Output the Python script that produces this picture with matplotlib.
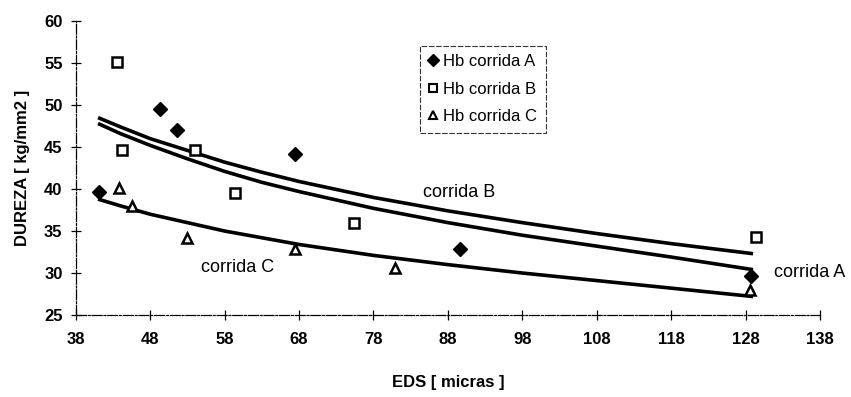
import matplotlib
matplotlib.use('Agg')
import matplotlib.pyplot as plt
from matplotlib.lines import Line2D

plt.rcParams['font.family'] = ['Liberation Sans', 'DejaVu Sans']

# puntos medidos (EDS en micras, dureza en kg/mm2)
eds_a = [41.1, 49.3, 51.6, 67.5, 89.6, 128.7]
dur_a = [39.6, 49.5, 47.0, 44.2, 32.9, 29.6]

eds_b = [43.5, 44.2, 54.0, 59.4, 75.4, 129.4]
dur_b = [55.1, 44.6, 44.6, 39.5, 36.0, 34.3]

eds_c = [43.8, 45.5, 52.9, 67.4, 80.9, 128.6]
dur_c = [40.1, 38.0, 34.2, 32.9, 30.6, 28.0]

# curvas de tendencia
eds_curva = [41, 44, 48, 53, 58, 63, 68, 78, 88, 98, 108, 118, 129]
curva_a = [47.8, 46.6, 45.2, 43.6, 42.1, 40.8, 39.7, 37.7, 36.0, 34.5, 33.2, 31.9, 30.4]
curva_b = [48.5, 47.4, 46.0, 44.6, 43.2, 42.0, 40.9, 39.0, 37.4, 36.0, 34.7, 33.5, 32.3]
curva_c = [38.8, 38.0, 37.0, 36.0, 35.0, 34.2, 33.4, 32.1, 31.0, 30.0, 29.1, 28.2, 27.2]

xticks = [38, 48, 58, 68, 78, 88, 98, 108, 118, 128, 138]
yticks = [25, 30, 35, 40, 45, 50, 55, 60]

fig = plt.figure(figsize=(8.51, 3.97), dpi=100)
ax = fig.add_axes([0.089, 0.2065, 0.8746, 0.7405])

lw = 2.6
ax.plot(eds_curva, curva_b, color='black', lw=lw, solid_capstyle='butt')
ax.plot(eds_curva, curva_a, color='black', lw=lw, solid_capstyle='butt')
ax.plot(eds_curva, curva_c, color='black', lw=lw, solid_capstyle='butt')

ax.plot(eds_a, dur_a, 'D', color='black', ms=7, ls='none')
ax.plot(eds_b, dur_b, 's', mfc='white', mec='black', mew=1.8, ms=7, ls='none')
ax.plot(eds_c, dur_c, '^', mfc='white', mec='black', mew=1.8, ms=7, ls='none')

ax.text(84.6, 39.6, 'corrida B', fontsize=13, va='center')
ax.text(54.8, 30.6, 'corrida C', fontsize=13, va='center')
ax.text(131.8, 30.1, 'corrida A', fontsize=13, va='center', clip_on=False)

ax.set_xlim(38, 138)
ax.set_ylim(25, 60)
ax.set_xticks(xticks)
ax.set_yticks(yticks)
ax.spines['top'].set_visible(False)
ax.spines['right'].set_visible(False)
for s in ('left', 'bottom'):
    ax.spines[s].set_linewidth(0.9)
    ax.spines[s].set_linestyle((0, (8, 1.5, 1.5, 1.5)))
ax.tick_params(direction='inout', length=7, width=0.9, labelsize=12, pad=6)
for lab in ax.get_xticklabels() + ax.get_yticklabels():
    lab.set_fontweight('bold')
ax.tick_params(axis='x', pad=9)

ax.set_xlabel('EDS [ micras ]', fontsize=12, fontweight='bold', labelpad=20)
ax.set_ylabel('DUREZA [ kg/mm2 ]', fontsize=12, fontweight='bold', labelpad=10)

handles = [
    Line2D([], [], marker='D', color='black', ls='none', ms=6),
    Line2D([], [], marker='s', mfc='white', mec='black', mew=1.5, ls='none', ms=6),
    Line2D([], [], marker='^', mfc='white', mec='black', mew=1.5, ls='none', ms=6),
]
leg = ax.legend(handles, ['Hb corrida A', 'Hb corrida B', 'Hb corrida C'],
                loc='upper left', bbox_to_anchor=(420 / 851, 1 - 46 / 397),
                bbox_transform=fig.transFigure, fontsize=12, frameon=True,
                fancybox=False, handlelength=0.6, handletextpad=0.3,
                borderpad=0.5, labelspacing=0.75, borderaxespad=0)
leg.get_frame().set_edgecolor('black')
leg.get_frame().set_linewidth(0.8)
leg.get_frame().set_linestyle((0, (5, 1.5)))

fig.savefig('out.png', dpi=100)
